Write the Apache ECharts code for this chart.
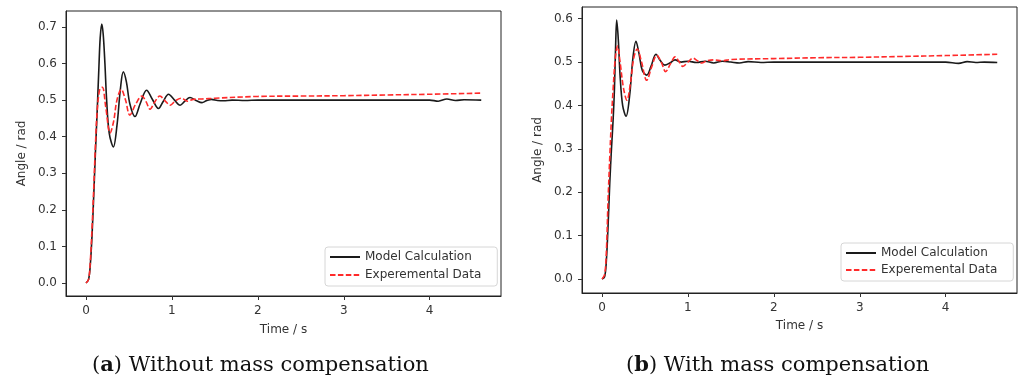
<!DOCTYPE html>
<html>
<head>
<meta charset="utf-8">
<script src="https://cdn.jsdelivr.net/npm/echarts@6/dist/echarts.min.js"></script>
<style>
  html, body { margin: 0; padding: 0; background: #fff; }
  #chart { width: 1022px; height: 380px; }
</style>
</head>
<body>
<div id="chart"></div>
<script>
// (a) without mass compensation
const timeModelA = [0, 0.03, 0.05, 0.07, 0.09, 0.11, 0.13, 0.15, 0.165, 0.183, 0.20, 0.22, 0.24, 0.27, 0.318, 0.36, 0.40, 0.434, 0.47, 0.51, 0.57, 0.63, 0.705, 0.77, 0.843, 0.90, 0.96, 1.03, 1.095, 1.15, 1.21, 1.28, 1.35, 1.40, 1.46, 1.53, 1.6, 1.7, 1.85, 2.0, 2.5, 3.0, 3.5, 4.0, 4.1, 4.2, 4.3, 4.4, 4.6];
const modelA = [0, 0.01, 0.05, 0.13, 0.24, 0.36, 0.47, 0.59, 0.67, 0.708, 0.68, 0.60, 0.50, 0.41, 0.372, 0.43, 0.53, 0.577, 0.55, 0.49, 0.455, 0.49, 0.527, 0.503, 0.477, 0.497, 0.516, 0.500, 0.486, 0.497, 0.507, 0.499, 0.493, 0.498, 0.502, 0.499, 0.498, 0.500, 0.499, 0.500, 0.500, 0.500, 0.500, 0.500, 0.497, 0.503, 0.499, 0.501, 0.500];
const timeExpA = [0, 0.03, 0.05, 0.07, 0.09, 0.11, 0.13, 0.16, 0.19, 0.23, 0.28, 0.32, 0.36, 0.41, 0.46, 0.51, 0.58, 0.65, 0.70, 0.745, 0.80, 0.86, 0.92, 0.98, 1.04, 1.11, 1.18, 1.25, 1.35, 1.5, 2.0, 2.5, 3.0, 3.5, 4.0, 4.6];
const expA = [0, 0.01, 0.06, 0.15, 0.26, 0.38, 0.47, 0.53, 0.535, 0.48, 0.41, 0.44, 0.50, 0.529, 0.50, 0.459, 0.49, 0.511, 0.495, 0.475, 0.495, 0.511, 0.498, 0.486, 0.498, 0.505, 0.497, 0.502, 0.503, 0.505, 0.510, 0.511, 0.512, 0.514, 0.516, 0.519];

// (b) with mass compensation
const timeModelB = [0, 0.03, 0.05, 0.07, 0.09, 0.11, 0.13, 0.145, 0.16, 0.171, 0.19, 0.21, 0.24, 0.28, 0.32, 0.36, 0.395, 0.43, 0.47, 0.52, 0.57, 0.628, 0.68, 0.73, 0.79, 0.85, 0.92, 1.0, 1.1, 1.2, 1.3, 1.4, 1.5, 1.6, 1.7, 1.85, 2.0, 2.5, 3.0, 3.5, 4.0, 4.15, 4.25, 4.35, 4.45, 4.6];
const modelB = [0, 0.005, 0.04, 0.12, 0.22, 0.30, 0.37, 0.44, 0.55, 0.597, 0.55, 0.47, 0.40, 0.375, 0.42, 0.51, 0.548, 0.52, 0.48, 0.470, 0.49, 0.518, 0.503, 0.493, 0.498, 0.505, 0.500, 0.502, 0.499, 0.502, 0.498, 0.502, 0.500, 0.498, 0.501, 0.499, 0.500, 0.500, 0.500, 0.500, 0.500, 0.497, 0.501, 0.499, 0.500, 0.499];
const timeExpB = [0, 0.03, 0.05, 0.07, 0.09, 0.11, 0.13, 0.155, 0.18, 0.21, 0.25, 0.29, 0.33, 0.37, 0.41, 0.46, 0.52, 0.58, 0.636, 0.69, 0.74, 0.80, 0.85, 0.90, 0.94, 1.0, 1.06, 1.11, 1.16, 1.22, 1.3, 1.4, 1.5, 2.0, 2.5, 3.0, 3.5, 4.0, 4.6];
const expB = [0, 0.01, 0.06, 0.18, 0.28, 0.37, 0.44, 0.51, 0.537, 0.50, 0.44, 0.412, 0.45, 0.51, 0.53, 0.50, 0.458, 0.49, 0.516, 0.50, 0.478, 0.497, 0.512, 0.50, 0.49, 0.50, 0.509, 0.503, 0.498, 0.503, 0.505, 0.503, 0.506, 0.508, 0.510, 0.511, 0.513, 0.515, 0.518];

const xTicks = [0, 1, 2, 3, 4];
const yTicksA = [0, 0.1, 0.2, 0.3, 0.4, 0.5, 0.6, 0.7];
const yTicksB = [0, 0.1, 0.2, 0.3, 0.4, 0.5, 0.6];

const pairs = (t, v) => t.map((x, i) => [x, v[i]]);

const axisText = { color: "#333", fontSize: 12, fontFamily: "DejaVu Sans" };
const spine = { show: true, onZero: false, lineStyle: { color: "#222", width: 1 } };
const tick = (values) => ({
  show: true,
  inside: false,
  customValues: values,
  length: 4,
  lineStyle: { color: "#333", width: 1 },
});

function xAxis(gridIndex, nameGap) {
  return {
    type: "value",
    gridIndex,
    min: -0.233,
    max: 4.83,
    z: 5,
    name: "Time / s",
    nameLocation: "middle",
    nameGap,
    nameTextStyle: axisText,
    axisLine: spine,
    axisTick: tick(xTicks),
    axisLabel: { customValues: xTicks, margin: 9, ...axisText },
    splitLine: { show: false },
  };
}

function yAxis(gridIndex, min, max, ticks, nameGap) {
  return {
    type: "value",
    gridIndex,
    min,
    max,
    z: 5,
    name: "Angle / rad",
    nameLocation: "middle",
    nameGap,
    nameTextStyle: axisText,
    axisLine: spine,
    axisTick: tick(ticks),
    axisLabel: { customValues: ticks, margin: 9, formatter: (v) => v.toFixed(1), ...axisText },
    splitLine: { show: false },
  };
}

function legend(left, top, gap) {
  return {
    left,
    top,
    orient: "vertical",
    data: ["Model Calculation", "Experemental Data"],
    itemWidth: 30,
    itemHeight: 14,
    itemGap: gap,
    padding: [4, 16, 5, 4],
    backgroundColor: "#fff",
    borderColor: "#d6d6d6",
    borderWidth: 1,
    borderRadius: 3,
    itemStyle: { opacity: 0 },
    textStyle: axisText,
  };
}

const black = { color: "#1a1a1a", width: 1.6 };
const red = { color: "#ff2a2a", width: 1.6, type: [5.5, 2.4] };

function lineSeries(name, idx, data, style) {
  return {
    name,
    type: "line",
    xAxisIndex: idx,
    yAxisIndex: idx,
    data,
    smooth: 0.35,
    showSymbol: false,
    symbol: "none",
    itemStyle: { color: style.color },
    lineStyle: style,
  };
}

const frame = { show: true, borderColor: "#222", borderWidth: 1, backgroundColor: "#fff" };

const option = {
  animation: false,
  backgroundColor: "#fff",
  grid: [
    { left: 66, right: 521, top: 11, bottom: 84, ...frame },
    { left: 582, right: 5, top: 7, bottom: 87, ...frame },
  ],
  xAxis: [xAxis(0, 28), xAxis(1, 27)],
  yAxis: [
    yAxis(0, -0.0355, 0.7435, yTicksA, 38),
    yAxis(1, -0.0325, 0.627, yTicksB, 38),
  ],
  legend: [legend(325, 247, 6), legend(841, 243, 5)],
  series: [
    lineSeries("Model Calculation", 0, pairs(timeModelA, modelA), black),
    lineSeries("Experemental Data", 0, pairs(timeExpA, expA), red),
    lineSeries("Model Calculation", 1, pairs(timeModelB, modelB), black),
    lineSeries("Experemental Data", 1, pairs(timeExpB, expB), red),
  ],
  graphic: [
    {
      type: "text",
      left: 92,
      top: 355,
      style: {
        text: "({b|a}) Without mass compensation",
        font: "21px 'DejaVu Serif'",
        fill: "#111",
        rich: { b: { fontWeight: "bold", fontSize: 21, fontFamily: "DejaVu Serif" } },
      },
    },
    {
      type: "text",
      left: 626,
      top: 355,
      style: {
        text: "({b|b}) With mass compensation",
        font: "21px 'DejaVu Serif'",
        fill: "#111",
        rich: { b: { fontWeight: "bold", fontSize: 21, fontFamily: "DejaVu Serif" } },
      },
    },
  ],
};

const chart = echarts.init(document.getElementById("chart"));
chart.setOption(option);
</script>
</body>
</html>
